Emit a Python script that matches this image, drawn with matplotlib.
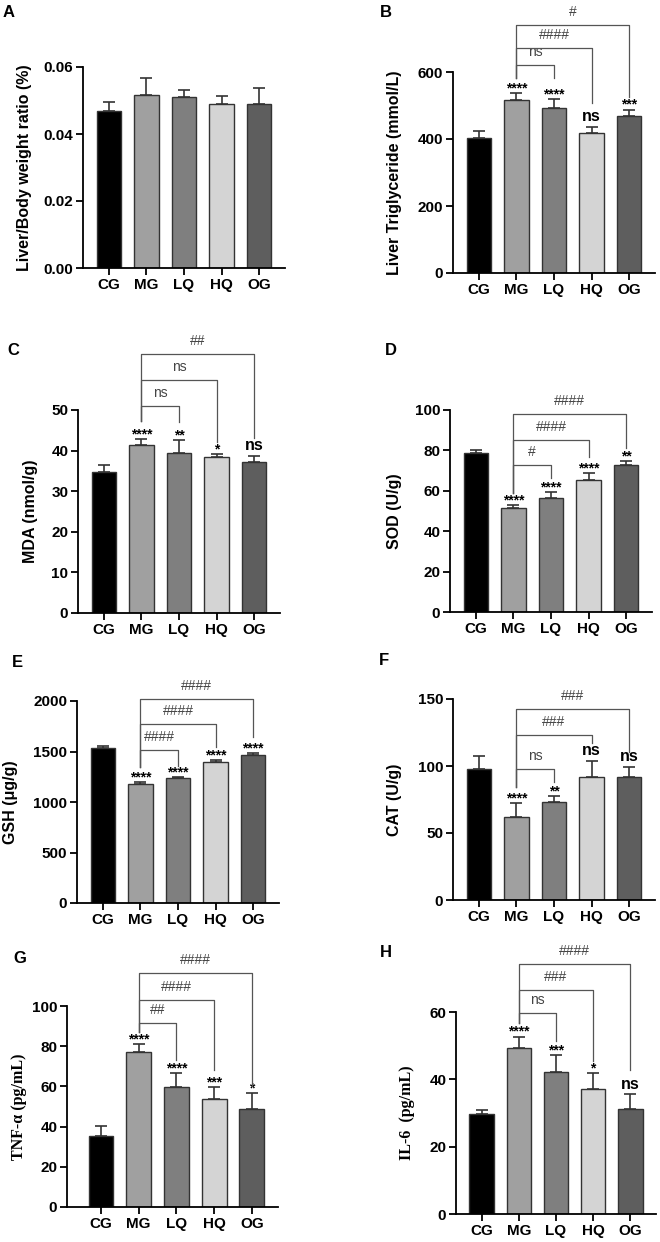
import matplotlib
matplotlib.use("Agg")

import matplotlib.pyplot as plt
import numpy as np

plt.rcParams["font.family"] = ["Liberation Sans", "DejaVu Sans"]

groups = ["CG", "MG", "LQ", "HQ", "OG"]
bar_colors = ["#000000", "#a0a0a0", "#7f7f7f", "#d4d4d4", "#5e5e5e"]

# panel data: means and upper SD
liver_ratio = [0.0468, 0.0515, 0.0510, 0.0489, 0.0490]
liver_ratio_err = [0.0029, 0.0053, 0.0020, 0.0023, 0.0048]
tg = [404, 516, 494, 419, 470]
tg_err = [20, 22, 26, 17, 18]
mda = [34.8, 41.4, 39.5, 38.5, 37.1]
mda_err = [1.6, 1.5, 3.0, 0.6, 1.6]
sod = [78.8, 51.7, 56.5, 65.5, 72.7]
sod_err = [1.4, 1.3, 2.7, 3.3, 2.0]
gsh = [1537, 1177, 1233, 1392, 1464]
gsh_err = [20, 23, 17, 19, 20]
cat = [97.5, 62.2, 73.1, 91.5, 91.5]
cat_err = [10.2, 10.4, 4.5, 12.5, 8.0]
tnf = [35.4, 77.0, 59.8, 53.6, 48.8]
tnf_err = [4.7, 4.0, 6.8, 6.0, 7.8]
il6 = [29.7, 49.3, 42.3, 37.1, 31.2]
il6_err = [1.2, 3.4, 4.8, 4.8, 4.4]

# significance vs CG
stars_B = ["", "****", "****", "ns", "***"]
stars_C = ["", "****", "**", "*", "ns"]
stars_D = ["", "****", "****", "****", "**"]
stars_E = ["", "****", "****", "****", "****"]
stars_F = ["", "****", "**", "ns", "ns"]
stars_G = ["", "****", "****", "***", "*"]
stars_H = ["", "****", "***", "*", "ns"]

# MG-vs-group brackets: (target, bracket height, right drop, label), left drop
br_B = ([(2, 620, 583, "ns"), (3, 671, 506, "####"), (4, 741, 526, "#")], 583)
br_C = ([(2, 51.0, 47.1, "ns"), (3, 57.4, 42.2, "ns"), (4, 63.9, 43.0, "##")], 47.3)
br_D = ([(2, 72.6, 66.1, "#"), (3, 85.1, 76.9, "####"), (4, 97.9, 81.0, "####")], 59.0)
br_E = ([(2, 1514, 1359, "####"), (3, 1769, 1547, "####"), (4, 2023, 1646, "####")], 1349)
br_F = ([(2, 98.0, 88.3, "ns"), (3, 122.9, 116.9, "###"), (4, 142.3, 110.7, "###")], 84.6)
br_G = ([(2, 91.4, 73.2, "##"), (3, 103.0, 68.2, "####"), (4, 116.2, 60.0, "####")], 87.3)
br_H = ([(2, 59.7, 51.3, "ns"), (3, 66.6, 45.3, "###"), (4, 74.3, 42.9, "####")], 56.7)

W, H = 660, 1242
fig = plt.figure(figsize=(W / 100, H / 100), dpi=100)


def make_ax(x0, x1, ytop, ybot):
    return fig.add_axes([x0 / W, 1 - ybot / H, (x1 - x0) / W, (ybot - ytop) / H])


def panel(rect, xl, vals, errs, yticks, ylabel, lab_px, letter, letter_px,
          stars=None, brackets=None, fmt="{:g}", serif=False):
    ax = make_ax(*rect)
    x = np.arange(len(groups))
    ax.bar(x, vals, width=0.66, color=bar_colors, edgecolor="#333333",
           linewidth=1.0, zorder=2)
    ax.errorbar(x, vals, yerr=[np.zeros(len(vals)), errs], fmt="none",
                ecolor="#333333", elinewidth=1.2, capsize=4.3, capthick=1.2,
                zorder=3)
    ax.set_xlim(xl, 4.69)
    ax.set_ylim(0, yticks[-1])
    ax.set_yticks(yticks)
    ax.set_yticklabels([fmt.format(t) for t in yticks])
    ax.set_xticks(x)
    ax.set_xticklabels(groups)
    for s in ["top", "right"]:
        ax.spines[s].set_visible(False)
    for s in ["left", "bottom"]:
        ax.spines[s].set_linewidth(1.3)
    ax.tick_params(width=1.3, length=5, labelsize=11, pad=2)
    for t in ax.get_xticklabels() + ax.get_yticklabels():
        t.set_fontweight("bold")
    if serif:
        ax.set_ylabel(ylabel, fontsize=11.5, fontweight="bold",
                      family=["Liberation Serif", "DejaVu Serif"])
    else:
        ax.set_ylabel(ylabel, fontsize=11.5, fontweight="bold")
    ax.yaxis.set_label_coords((lab_px - rect[0]) / (rect[1] - rect[0]), 0.5)
    fig.text(letter_px[0] / W, 1 - letter_px[1] / H, letter, fontsize=12,
             fontweight="bold", ha="left", va="top")
    if stars:
        for i, s in enumerate(stars):
            if not s:
                continue
            top = vals[i] + errs[i]
            if s == "ns":
                ax.annotate(s, (i, top), xytext=(0, 4), textcoords="offset points",
                            ha="center", va="baseline", fontsize=11.5,
                            fontweight="bold", annotation_clip=False)
            else:
                ax.annotate(s, (i, top), xytext=(0, 0.5), textcoords="offset points",
                            ha="center", va="baseline", fontsize=10,
                            fontweight="bold", annotation_clip=False)
    if brackets:
        items, left = brackets
        for tgt, yb, ydrop, lab in items:
            ax.plot([1, 1, tgt, tgt], [left, yb, yb, ydrop], color="#555555",
                    lw=0.9, clip_on=False, zorder=4)
            ax.annotate(lab, ((1 + tgt) / 2, yb), xytext=(0, 6.5),
                        textcoords="offset points", ha="center", va="baseline",
                        fontsize=10, color="#444444", annotation_clip=False)
    return ax


panel((83, 285, 67, 268), -0.69, liver_ratio, liver_ratio_err,
      [0, 0.02, 0.04, 0.06], "Liver/Body weight ratio (%)", 32, "A", (3, 5),
      fmt="{:.2f}")
panel((453, 655, 72, 273), -0.69, tg, tg_err, [0, 200, 400, 600],
      "Liver Triglyceride (mmol/L)", 402, "B", (380, 5), stars_B, br_B)
panel((78, 280, 410, 613), -0.69, mda, mda_err, [0, 10, 20, 30, 40, 50],
      "MDA (nmol/g)", 38, "C", (7, 343), stars_C, br_C)
panel((450, 652, 410, 612), -0.69, sod, sod_err, [0, 20, 40, 60, 80, 100],
      "SOD (U/g)", 402, "D", (385, 343), stars_D, br_D)
panel((77, 279, 701, 903), -0.69, gsh, gsh_err, [0, 500, 1000, 1500, 2000],
      "GSH (μg/g)", 18, "E", (12, 655), stars_E, br_E)
panel((453, 655, 699, 900), -0.69, cat, cat_err, [0, 50, 100, 150],
      "CAT (U/g)", 402, "F", (379, 653), stars_F, br_F)
panel((67, 278, 1006, 1207), -0.9, tnf, tnf_err, [0, 20, 40, 60, 80, 100],
      "TNF-α (pg/mL)", 27, "G", (13, 951), stars_G, br_G, serif=True)
panel((456, 656, 1012, 1214), -0.69, il6, il6_err, [0, 20, 40, 60],
      "IL-6  (pg/mL)", 415, "H", (380, 945), stars_H, br_H, serif=True)

fig.savefig("out.png", dpi=100)
